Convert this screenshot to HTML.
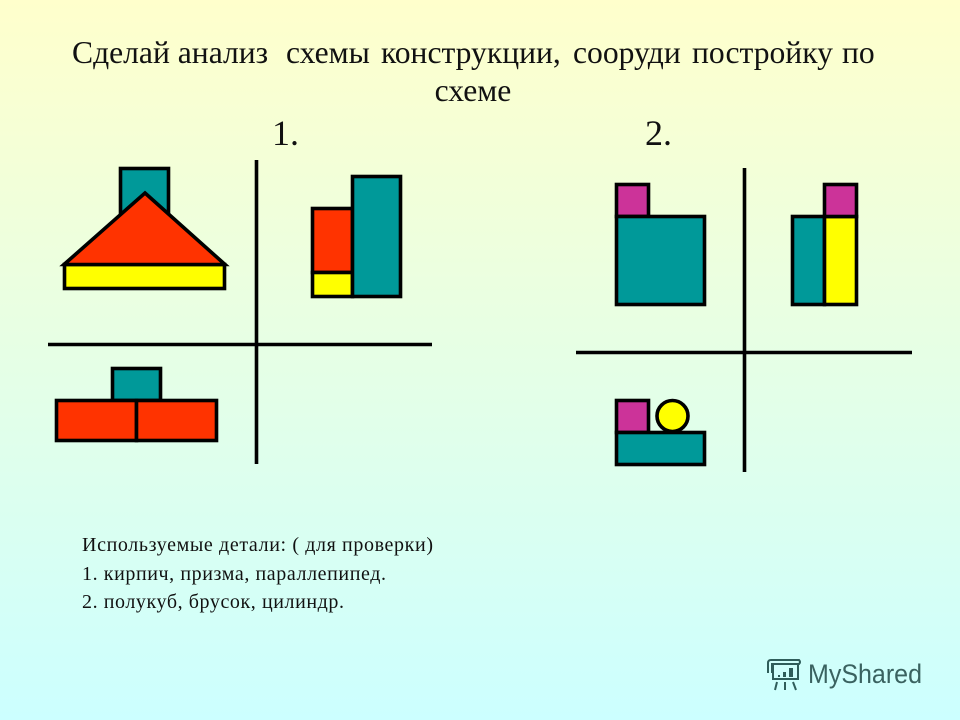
<!DOCTYPE html>
<html lang="ru">
<head>
<meta charset="utf-8">
<title>Сделай анализ схемы конструкции</title>
<style>
html,body{margin:0;padding:0;width:960px;height:720px;overflow:hidden;background:#ffffcc}
svg{display:block}
text{font-family:"Liberation Serif","Noto Serif CJK SC",serif;fill:#111}
.s{stroke:#000;stroke-width:3.6;stroke-linejoin:miter}
.axis{stroke:#000;stroke-width:3.6;fill:none}
.teal{fill:#009999}.red{fill:#ff3300}.yel{fill:#ffff00}.pur{fill:#cc3399}
</style>
</head>
<body>
<svg xmlns="http://www.w3.org/2000/svg" width="960" height="720" viewBox="0 0 960 720">
<defs>
<linearGradient id="bg" x1="0" y1="0" x2="0" y2="1">
<stop offset="0" stop-color="#ffffcc"/>
<stop offset="1" stop-color="#ccffff"/>
</linearGradient>
</defs>
<rect width="960" height="720" fill="url(#bg)"/>

<g font-size="31.6">
<text x="72" y="63">Сделай анализ</text>
<text x="286" y="63">схемы</text>
<text x="381" y="63">конструкции,</text>
<text x="573" y="63">сооруди</text>
<text x="692" y="63">постройку</text>
<text x="842" y="63">по</text>
<text x="473" y="101" text-anchor="middle">схеме</text>
<text x="272" y="145" font-size="36">1.</text>
<text x="645" y="145" font-size="36">2.</text>
</g>

<g>
<rect class="s teal" x="120.500" y="168.500" width="48" height="64"/>
<rect class="s yel" x="64.500" y="264.500" width="160" height="24"/>
<polygon class="s red" points="145,193 225,264.500 64,264.500"/>
<rect class="s red" x="312.500" y="208.500" width="40" height="64"/>
<rect class="s yel" x="312.500" y="272.500" width="40" height="24"/>
<rect class="s teal" x="352.500" y="176.500" width="48" height="120"/>
<rect class="s teal" x="112.500" y="368.500" width="48" height="32"/>
<rect class="s red" x="56.500" y="400.500" width="80" height="40"/>
<rect class="s red" x="136.500" y="400.500" width="80" height="40"/>
<line class="axis" x1="256.500" y1="160" x2="256.500" y2="464"/>
<line class="axis" x1="48" y1="344.500" x2="432" y2="344.500"/>
</g>

<g>
<rect class="s pur" x="616.500" y="184.500" width="32" height="32"/>
<rect class="s teal" x="616.500" y="216.500" width="88" height="88"/>
<rect class="s teal" x="792.500" y="216.500" width="32" height="88"/>
<rect class="s yel" x="824.500" y="216.500" width="32" height="88"/>
<rect class="s pur" x="824.500" y="184.500" width="32" height="32"/>
<rect class="s pur" x="616.500" y="400.500" width="32" height="32"/>
<circle class="s yel" cx="672.500" cy="416" r="15.500"/>
<rect class="s teal" x="616.500" y="432.500" width="88" height="32"/>
<line class="axis" x1="744.500" y1="168" x2="744.500" y2="472"/>
<line class="axis" x1="576" y1="352.500" x2="912" y2="352.500"/>
</g>

<g font-size="20">
<text x="82" y="551" textLength="351" lengthAdjust="spacing">Используемые  детали: ( для проверки)</text>
<text x="82" y="580" textLength="304" lengthAdjust="spacing">1. кирпич, призма, параллепипед.</text>
<text x="82" y="608" textLength="262" lengthAdjust="spacing">2. полукуб, брусок, цилиндр.</text>
</g>

<g>
<g fill="none" stroke="#2f5d5a" stroke-width="2">
<path d="M768 673V663Q768 660 771 660H799Q801 662 799 664H772V673"/>
<path d="M773 664V679H798V664"/>
<path d="M777 682L775 690M785 682V690M793 682L796 690"/>
</g>
<g fill="#2f5d5a">
<rect x="778" y="675" width="2" height="2"/>
<rect x="783" y="672" width="3" height="5"/>
<rect x="789" y="668" width="4" height="9"/>
</g>
<text x="808" y="683" font-size="27" textLength="114" lengthAdjust="spacingAndGlyphs" style="font-family:'Liberation Sans',sans-serif;fill:#3a6260">MyShared</text>
</g>
</svg>
</body>
</html>
